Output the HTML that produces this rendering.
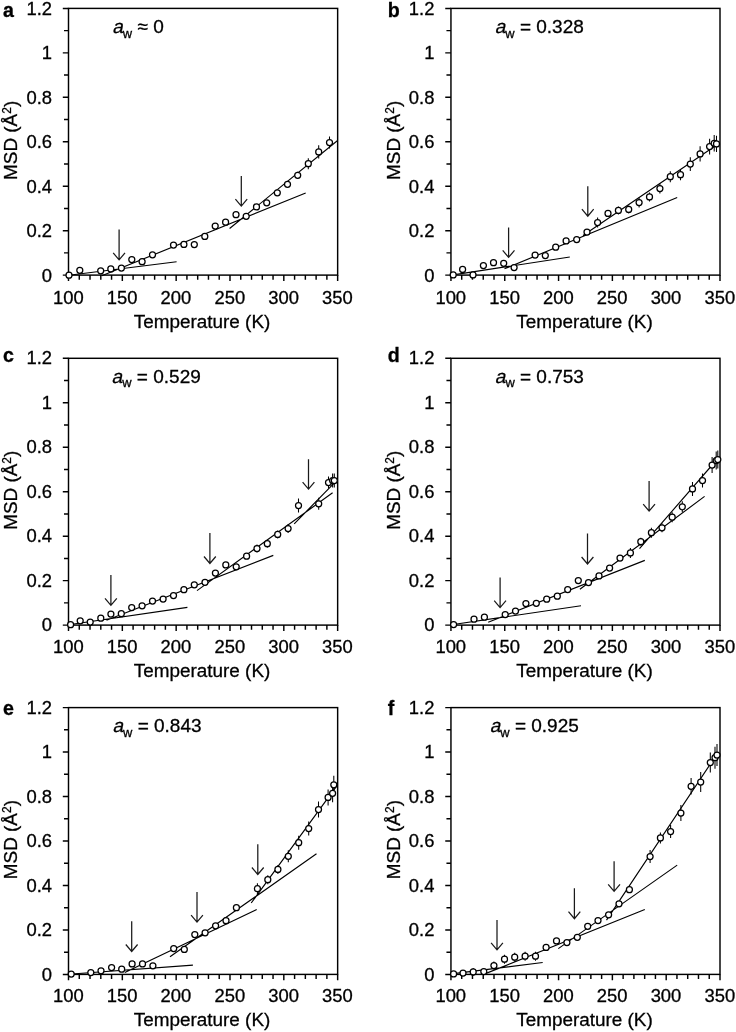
<!DOCTYPE html>
<html lang="en"><head><meta charset="utf-8"><title>MSD vs Temperature</title>
<style>html,body{margin:0;padding:0;background:#fff;}svg{display:block;}text{font-family:"Liberation Sans",Arial,Helvetica,sans-serif;fill:#000;stroke:#000;stroke-width:0.3px;}</style></head><body>
<svg width="736" height="1032" viewBox="0 0 736 1032">
<rect width="736" height="1032" fill="#fff"/>
<g id="panel-a">
<rect x="68.5" y="8.4" width="269.15" height="266.7" fill="none" stroke="#000" stroke-width="1.45"/>
<path d="M62.8 275.1H68.5M64 252.88H68.5M62.8 230.65H68.5M64 208.43H68.5M62.8 186.2H68.5M64 163.98H68.5M62.8 141.75H68.5M64 119.53H68.5M62.8 97.3H68.5M64 75.08H68.5M62.8 52.85H68.5M64 30.62H68.5M62.8 8.4H68.5M68.5 275.1V280.9M79.27 275.1V279.7M90.03 275.1V279.7M100.8 275.1V279.7M111.56 275.1V279.7M122.33 275.1V280.9M133.1 275.1V279.7M143.86 275.1V279.7M154.63 275.1V279.7M165.39 275.1V279.7M176.16 275.1V280.9M186.93 275.1V279.7M197.69 275.1V279.7M208.46 275.1V279.7M219.22 275.1V279.7M229.99 275.1V280.9M240.76 275.1V279.7M251.52 275.1V279.7M262.29 275.1V279.7M273.05 275.1V279.7M283.82 275.1V280.9M294.59 275.1V279.7M305.35 275.1V279.7M316.12 275.1V279.7M326.88 275.1V279.7M337.65 275.1V280.9" stroke="#000" stroke-width="1.45" fill="none"/>
<g font-size="18.4" text-anchor="end">
<text x="52" y="281.6">0</text>
<text x="52" y="237.15">0.2</text>
<text x="52" y="192.7">0.4</text>
<text x="52" y="148.25">0.6</text>
<text x="52" y="103.8">0.8</text>
<text x="52" y="59.35">1</text>
<text x="52" y="14.9">1.2</text>
</g>
<g font-size="18.4" text-anchor="middle">
<text x="68.3" y="303.6">100</text>
<text x="122.13" y="303.6">150</text>
<text x="175.96" y="303.6">200</text>
<text x="229.79" y="303.6">250</text>
<text x="283.62" y="303.6">300</text>
<text x="337.45" y="303.6">350</text>
<text x="202.07" y="327.7" font-size="18.9">Temperature (K)</text>
</g>
<text transform="translate(17.4 140.35) rotate(-90)" font-size="18.9" text-anchor="middle">MSD (Å<tspan font-size="12.0" dy="-6.2">2</tspan><tspan dy="6.2">)</tspan></text>
<text x="3" y="16.9" font-size="19.6" font-weight="bold">a</text>
<text transform="translate(112.2 32.9) skewX(-12)" font-size="19.0">a</text>
<text x="122.86" y="32.9" font-size="19.0"><tspan font-size="12.9" dy="4.8">w</tspan><tspan dy="-4.8"> ≈ 0</tspan></text>
<path d="M69 275.2L176.6 261.7M101.8 275.8L305.7 193M229.6 228.5L337.6 140.5" stroke="#000" stroke-width="1.15" fill="none"/>
<path d="M297.7 171.7V178.9M308.3 158.2V169.2M318.7 145.2V158.6M329.5 136.5V148.5" stroke="#000" stroke-width="1.05" fill="none"/>
<g fill="#fff" stroke="#000" stroke-width="1.25">
<circle cx="69" cy="275.2" r="3.0"/>
<circle cx="79.8" cy="270.3" r="3.0"/>
<circle cx="100.7" cy="270.8" r="3.0"/>
<circle cx="110.8" cy="268.9" r="3.0"/>
<circle cx="121.4" cy="268" r="3.0"/>
<circle cx="131.8" cy="259.5" r="3.0"/>
<circle cx="142.1" cy="261.7" r="3.0"/>
<circle cx="152.5" cy="254.8" r="3.0"/>
<circle cx="173.5" cy="245.1" r="3.0"/>
<circle cx="183.9" cy="244.4" r="3.0"/>
<circle cx="194.3" cy="244.5" r="3.0"/>
<circle cx="204.8" cy="236.4" r="3.0"/>
<circle cx="215.2" cy="226.1" r="3.0"/>
<circle cx="225.6" cy="222.2" r="3.0"/>
<circle cx="236" cy="214.7" r="3.0"/>
<circle cx="246.2" cy="216.3" r="3.0"/>
<circle cx="256.5" cy="206.9" r="3.0"/>
<circle cx="266.7" cy="202.8" r="3.0"/>
<circle cx="277.3" cy="192.8" r="3.0"/>
<circle cx="287.5" cy="184.3" r="3.0"/>
<circle cx="297.7" cy="175.3" r="3.0"/>
<circle cx="308.3" cy="163.7" r="3.0"/>
<circle cx="318.7" cy="151.9" r="3.0"/>
<circle cx="329.5" cy="142.5" r="3.0"/>
</g>
<path d="M119.1 229.5V259.9M113.2 252.9L119.1 259.9L125 252.9M241.3 176.1V206.1M235.4 199.1L241.3 206.1L247.2 199.1" stroke="#1a1a1a" stroke-width="1.25" fill="none" stroke-linejoin="miter"/>
</g>
<g id="panel-b">
<rect x="450.95" y="8.4" width="269.05" height="266.7" fill="none" stroke="#000" stroke-width="1.45"/>
<path d="M445.25 275.1H450.95M446.45 252.88H450.95M445.25 230.65H450.95M446.45 208.43H450.95M445.25 186.2H450.95M446.45 163.98H450.95M445.25 141.75H450.95M446.45 119.53H450.95M445.25 97.3H450.95M446.45 75.08H450.95M445.25 52.85H450.95M446.45 30.62H450.95M445.25 8.4H450.95M450.95 275.1V280.9M461.71 275.1V279.7M472.47 275.1V279.7M483.24 275.1V279.7M494 275.1V279.7M504.76 275.1V280.9M515.52 275.1V279.7M526.28 275.1V279.7M537.05 275.1V279.7M547.81 275.1V279.7M558.57 275.1V280.9M569.33 275.1V279.7M580.09 275.1V279.7M590.86 275.1V279.7M601.62 275.1V279.7M612.38 275.1V280.9M623.14 275.1V279.7M633.9 275.1V279.7M644.67 275.1V279.7M655.43 275.1V279.7M666.19 275.1V280.9M676.95 275.1V279.7M687.71 275.1V279.7M698.48 275.1V279.7M709.24 275.1V279.7M720 275.1V280.9" stroke="#000" stroke-width="1.45" fill="none"/>
<g font-size="18.4" text-anchor="end">
<text x="434.45" y="281.6">0</text>
<text x="434.45" y="237.15">0.2</text>
<text x="434.45" y="192.7">0.4</text>
<text x="434.45" y="148.25">0.6</text>
<text x="434.45" y="103.8">0.8</text>
<text x="434.45" y="59.35">1</text>
<text x="434.45" y="14.9">1.2</text>
</g>
<g font-size="18.4" text-anchor="middle">
<text x="450.75" y="303.6">100</text>
<text x="504.56" y="303.6">150</text>
<text x="558.37" y="303.6">200</text>
<text x="612.18" y="303.6">250</text>
<text x="665.99" y="303.6">300</text>
<text x="719.8" y="303.6">350</text>
<text x="584.48" y="327.7" font-size="18.9">Temperature (K)</text>
</g>
<text transform="translate(399.85 140.35) rotate(-90)" font-size="18.9" text-anchor="middle">MSD (Å<tspan font-size="12.0" dy="-6.2">2</tspan><tspan dy="6.2">)</tspan></text>
<text x="387.7" y="16.9" font-size="19.6" font-weight="bold">b</text>
<text transform="translate(494.65 32.9) skewX(-12)" font-size="19.0">a</text>
<text x="505.31" y="32.9" font-size="19.0"><tspan font-size="12.9" dy="4.8">w</tspan><tspan dy="-4.8"> = 0.328</tspan></text>
<path d="M453.2 274.9L569.8 257M504.5 268.8L677.2 197.5M583 235.5L719.6 142.9" stroke="#000" stroke-width="1.15" fill="none"/>
<path d="M597.6 217.6V227.6M618.4 206.4V214.4M628.7 205.4V213.4M639.1 197.6V207.6M649.5 192.4V201.4M659.9 183.6V193.6M670.3 171.2V182.2M680.5 169.2V180.2M690.3 157.2V171M700.1 146.2V161.6M709.6 138.8V154.4M714.2 135.1V151.5M716.5 135.7V152.1" stroke="#000" stroke-width="1.05" fill="none"/>
<g fill="#fff" stroke="#000" stroke-width="1.25">
<circle cx="453.2" cy="274.9" r="3.0"/>
<circle cx="462.6" cy="269.4" r="3.0"/>
<circle cx="473" cy="274.9" r="3.0"/>
<circle cx="483.4" cy="265.5" r="3.0"/>
<circle cx="493.5" cy="262.7" r="3.0"/>
<circle cx="503.7" cy="263.3" r="3.0"/>
<circle cx="514.1" cy="267.6" r="3.0"/>
<circle cx="535.1" cy="255" r="3.0"/>
<circle cx="545.3" cy="255.6" r="3.0"/>
<circle cx="555.7" cy="247.2" r="3.0"/>
<circle cx="566.1" cy="240.9" r="3.0"/>
<circle cx="576.7" cy="239.5" r="3.0"/>
<circle cx="587" cy="232" r="3.0"/>
<circle cx="597.6" cy="222.6" r="3.0"/>
<circle cx="608" cy="213.4" r="3.0"/>
<circle cx="618.4" cy="210.4" r="3.0"/>
<circle cx="628.7" cy="209.4" r="3.0"/>
<circle cx="639.1" cy="202.6" r="3.0"/>
<circle cx="649.5" cy="196.9" r="3.0"/>
<circle cx="659.9" cy="188.6" r="3.0"/>
<circle cx="670.3" cy="176.7" r="3.0"/>
<circle cx="680.5" cy="174.7" r="3.0"/>
<circle cx="690.3" cy="164.1" r="3.0"/>
<circle cx="700.1" cy="153.9" r="3.0"/>
<circle cx="709.6" cy="146.6" r="3.0"/>
<circle cx="714.2" cy="143.3" r="3.0"/>
<circle cx="716.5" cy="143.9" r="3.0"/>
</g>
<path d="M508.6 227.4V257.4M502.7 250.4L508.6 257.4L514.5 250.4M587.8 186.2V216.2M581.9 209.2L587.8 216.2L593.7 209.2" stroke="#1a1a1a" stroke-width="1.25" fill="none" stroke-linejoin="miter"/>
</g>
<g id="panel-c">
<rect x="68.5" y="358.3" width="269.15" height="266.8" fill="none" stroke="#000" stroke-width="1.45"/>
<path d="M62.8 625.1H68.5M64 602.87H68.5M62.8 580.63H68.5M64 558.4H68.5M62.8 536.17H68.5M64 513.93H68.5M62.8 491.7H68.5M64 469.47H68.5M62.8 447.23H68.5M64 425H68.5M62.8 402.77H68.5M64 380.53H68.5M62.8 358.3H68.5M68.5 625.1V630.9M79.27 625.1V629.7M90.03 625.1V629.7M100.8 625.1V629.7M111.56 625.1V629.7M122.33 625.1V630.9M133.1 625.1V629.7M143.86 625.1V629.7M154.63 625.1V629.7M165.39 625.1V629.7M176.16 625.1V630.9M186.93 625.1V629.7M197.69 625.1V629.7M208.46 625.1V629.7M219.22 625.1V629.7M229.99 625.1V630.9M240.76 625.1V629.7M251.52 625.1V629.7M262.29 625.1V629.7M273.05 625.1V629.7M283.82 625.1V630.9M294.59 625.1V629.7M305.35 625.1V629.7M316.12 625.1V629.7M326.88 625.1V629.7M337.65 625.1V630.9" stroke="#000" stroke-width="1.45" fill="none"/>
<g font-size="18.4" text-anchor="end">
<text x="52" y="631">0</text>
<text x="52" y="586.53">0.2</text>
<text x="52" y="542.07">0.4</text>
<text x="52" y="497.6">0.6</text>
<text x="52" y="453.13">0.8</text>
<text x="52" y="408.67">1</text>
<text x="52" y="364.2">1.2</text>
</g>
<g font-size="18.4" text-anchor="middle">
<text x="68.3" y="652.9">100</text>
<text x="122.13" y="652.9">150</text>
<text x="175.96" y="652.9">200</text>
<text x="229.79" y="652.9">250</text>
<text x="283.62" y="652.9">300</text>
<text x="337.45" y="652.9">350</text>
<text x="202.07" y="677" font-size="18.9">Temperature (K)</text>
</g>
<text transform="translate(17.4 490.3) rotate(-90)" font-size="18.9" text-anchor="middle">MSD (Å<tspan font-size="12.0" dy="-6.2">2</tspan><tspan dy="6.2">)</tspan></text>
<text x="3" y="361.8" font-size="19.6" font-weight="bold">c</text>
<text transform="translate(111.6 382.5) skewX(-12)" font-size="19.0">a</text>
<text x="122.26" y="382.5" font-size="19.0"><tspan font-size="12.9" dy="4.8">w</tspan><tspan dy="-4.8"> = 0.529</tspan></text>
<path d="M68.6 624.7L187.4 607.4M106.5 620.2L273.3 555.4M197 590.6L332.6 492.8M294.2 523.8L336.6 480.6" stroke="#000" stroke-width="1.15" fill="none"/>
<path d="M257 544.6V552.6M267.3 539.7V547.7M277.7 530.4V538.4M288.1 524V533M298.5 498.6V512.6M318.7 497.8V509.8M328.5 476.6V488.6M332.6 473.6V487.6M334.3 473.6V487.6" stroke="#000" stroke-width="1.05" fill="none"/>
<g fill="#fff" stroke="#000" stroke-width="1.25">
<circle cx="70.6" cy="624.7" r="3.0"/>
<circle cx="80.2" cy="620.8" r="3.0"/>
<circle cx="90.2" cy="622.1" r="3.0"/>
<circle cx="100.8" cy="618.2" r="3.0"/>
<circle cx="110.9" cy="614.1" r="3.0"/>
<circle cx="121.3" cy="613.7" r="3.0"/>
<circle cx="131.7" cy="607.6" r="3.0"/>
<circle cx="142.1" cy="605.8" r="3.0"/>
<circle cx="152.5" cy="601.1" r="3.0"/>
<circle cx="163.1" cy="599" r="3.0"/>
<circle cx="173.5" cy="595.6" r="3.0"/>
<circle cx="183.9" cy="589.7" r="3.0"/>
<circle cx="194.3" cy="584.8" r="3.0"/>
<circle cx="205" cy="582.3" r="3.0"/>
<circle cx="215.4" cy="573.1" r="3.0"/>
<circle cx="225.8" cy="564.9" r="3.0"/>
<circle cx="236.2" cy="566.8" r="3.0"/>
<circle cx="246.6" cy="556.2" r="3.0"/>
<circle cx="257" cy="548.6" r="3.0"/>
<circle cx="267.3" cy="543.7" r="3.0"/>
<circle cx="277.7" cy="534.4" r="3.0"/>
<circle cx="288.1" cy="528.5" r="3.0"/>
<circle cx="298.5" cy="505.6" r="3.0"/>
<circle cx="318.7" cy="503.8" r="3.0"/>
<circle cx="328.5" cy="482.6" r="3.0"/>
<circle cx="332.6" cy="480.6" r="3.0"/>
<circle cx="334.3" cy="480.6" r="3.0"/>
</g>
<path d="M110.9 575V605.4M105 598.4L110.9 605.4L116.8 598.4M209.9 533.1V563.5M204 556.5L209.9 563.5L215.8 556.5M308.5 459.2V489.1M302.6 482.1L308.5 489.1L314.4 482.1" stroke="#1a1a1a" stroke-width="1.25" fill="none" stroke-linejoin="miter"/>
</g>
<g id="panel-d">
<rect x="450.95" y="358.3" width="269.05" height="266.8" fill="none" stroke="#000" stroke-width="1.45"/>
<path d="M445.25 625.1H450.95M446.45 602.87H450.95M445.25 580.63H450.95M446.45 558.4H450.95M445.25 536.17H450.95M446.45 513.93H450.95M445.25 491.7H450.95M446.45 469.47H450.95M445.25 447.23H450.95M446.45 425H450.95M445.25 402.77H450.95M446.45 380.53H450.95M445.25 358.3H450.95M450.95 625.1V630.9M461.71 625.1V629.7M472.47 625.1V629.7M483.24 625.1V629.7M494 625.1V629.7M504.76 625.1V630.9M515.52 625.1V629.7M526.28 625.1V629.7M537.05 625.1V629.7M547.81 625.1V629.7M558.57 625.1V630.9M569.33 625.1V629.7M580.09 625.1V629.7M590.86 625.1V629.7M601.62 625.1V629.7M612.38 625.1V630.9M623.14 625.1V629.7M633.9 625.1V629.7M644.67 625.1V629.7M655.43 625.1V629.7M666.19 625.1V630.9M676.95 625.1V629.7M687.71 625.1V629.7M698.48 625.1V629.7M709.24 625.1V629.7M720 625.1V630.9" stroke="#000" stroke-width="1.45" fill="none"/>
<g font-size="18.4" text-anchor="end">
<text x="434.45" y="631">0</text>
<text x="434.45" y="586.53">0.2</text>
<text x="434.45" y="542.07">0.4</text>
<text x="434.45" y="497.6">0.6</text>
<text x="434.45" y="453.13">0.8</text>
<text x="434.45" y="408.67">1</text>
<text x="434.45" y="364.2">1.2</text>
</g>
<g font-size="18.4" text-anchor="middle">
<text x="450.75" y="652.9">100</text>
<text x="504.56" y="652.9">150</text>
<text x="558.37" y="652.9">200</text>
<text x="612.18" y="652.9">250</text>
<text x="665.99" y="652.9">300</text>
<text x="719.8" y="652.9">350</text>
<text x="584.48" y="677" font-size="18.9">Temperature (K)</text>
</g>
<text transform="translate(399.85 490.3) rotate(-90)" font-size="18.9" text-anchor="middle">MSD (Å<tspan font-size="12.0" dy="-6.2">2</tspan><tspan dy="6.2">)</tspan></text>
<text x="387.7" y="361.8" font-size="19.6" font-weight="bold">d</text>
<text transform="translate(494.75 382.5) skewX(-12)" font-size="19.0">a</text>
<text x="505.41" y="382.5" font-size="19.0"><tspan font-size="12.9" dy="4.8">w</tspan><tspan dy="-4.8"> = 0.753</tspan></text>
<path d="M451.6 624.7L581 605.8M488.2 622.3L644.8 560.4M579.9 589.3L704.6 496.4M639.5 548.6L719.6 456.5" stroke="#000" stroke-width="1.15" fill="none"/>
<path d="M630.4 547.9V557.9M640.8 537.7V545.7M651.4 527.7V537.7M662 523.3V532.3M672.2 512.2V522.2M682.3 501.3V512.3M692.5 481.9V495.9M702.5 473.5V487.5M712.1 457.1V473.1M716.2 451.6V469.6M717.8 450.5V468.5" stroke="#000" stroke-width="1.05" fill="none"/>
<g fill="#fff" stroke="#000" stroke-width="1.25">
<circle cx="453.6" cy="624.5" r="3.0"/>
<circle cx="474" cy="619.2" r="3.0"/>
<circle cx="484.4" cy="617.2" r="3.0"/>
<circle cx="505.2" cy="614.5" r="3.0"/>
<circle cx="515.5" cy="611.1" r="3.0"/>
<circle cx="525.9" cy="603.5" r="3.0"/>
<circle cx="536.3" cy="603.3" r="3.0"/>
<circle cx="546.7" cy="599.2" r="3.0"/>
<circle cx="557.3" cy="596.2" r="3.0"/>
<circle cx="567.7" cy="589.5" r="3.0"/>
<circle cx="578.3" cy="580.5" r="3.0"/>
<circle cx="588.5" cy="582.6" r="3.0"/>
<circle cx="599" cy="575.9" r="3.0"/>
<circle cx="609.6" cy="568" r="3.0"/>
<circle cx="620" cy="558" r="3.0"/>
<circle cx="630.4" cy="552.9" r="3.0"/>
<circle cx="640.8" cy="541.7" r="3.0"/>
<circle cx="651.4" cy="532.7" r="3.0"/>
<circle cx="662" cy="527.8" r="3.0"/>
<circle cx="672.2" cy="517.2" r="3.0"/>
<circle cx="682.3" cy="506.8" r="3.0"/>
<circle cx="692.5" cy="488.9" r="3.0"/>
<circle cx="702.5" cy="480.5" r="3.0"/>
<circle cx="712.1" cy="465.1" r="3.0"/>
<circle cx="716.2" cy="460.6" r="3.0"/>
<circle cx="717.8" cy="459.5" r="3.0"/>
</g>
<path d="M500.1 577.4V607.6M494.2 600.6L500.1 607.6L506 600.6M587.5 533.6V564M581.6 557L587.5 564L593.4 557M649.1 480.9V511.1M643.2 504.1L649.1 511.1L655 504.1" stroke="#1a1a1a" stroke-width="1.25" fill="none" stroke-linejoin="miter"/>
</g>
<g id="panel-e">
<rect x="68.5" y="707.6" width="269.15" height="266.8" fill="none" stroke="#000" stroke-width="1.45"/>
<path d="M62.8 974.4H68.5M64 952.17H68.5M62.8 929.93H68.5M64 907.7H68.5M62.8 885.47H68.5M64 863.23H68.5M62.8 841H68.5M64 818.77H68.5M62.8 796.53H68.5M64 774.3H68.5M62.8 752.07H68.5M64 729.83H68.5M62.8 707.6H68.5M68.5 974.4V980.2M79.27 974.4V979M90.03 974.4V979M100.8 974.4V979M111.56 974.4V979M122.33 974.4V980.2M133.1 974.4V979M143.86 974.4V979M154.63 974.4V979M165.39 974.4V979M176.16 974.4V980.2M186.93 974.4V979M197.69 974.4V979M208.46 974.4V979M219.22 974.4V979M229.99 974.4V980.2M240.76 974.4V979M251.52 974.4V979M262.29 974.4V979M273.05 974.4V979M283.82 974.4V980.2M294.59 974.4V979M305.35 974.4V979M316.12 974.4V979M326.88 974.4V979M337.65 974.4V980.2" stroke="#000" stroke-width="1.45" fill="none"/>
<g font-size="18.4" text-anchor="end">
<text x="52" y="980.5">0</text>
<text x="52" y="936.03">0.2</text>
<text x="52" y="891.57">0.4</text>
<text x="52" y="847.1">0.6</text>
<text x="52" y="802.63">0.8</text>
<text x="52" y="758.17">1</text>
<text x="52" y="713.7">1.2</text>
</g>
<g font-size="18.4" text-anchor="middle">
<text x="68.3" y="1002.3">100</text>
<text x="122.13" y="1002.3">150</text>
<text x="175.96" y="1002.3">200</text>
<text x="229.79" y="1002.3">250</text>
<text x="283.62" y="1002.3">300</text>
<text x="337.45" y="1002.3">350</text>
<text x="202.07" y="1026.4" font-size="18.9">Temperature (K)</text>
</g>
<text transform="translate(17.4 839.6) rotate(-90)" font-size="18.9" text-anchor="middle">MSD (Å<tspan font-size="12.0" dy="-6.2">2</tspan><tspan dy="6.2">)</tspan></text>
<text x="3" y="714.7" font-size="19.6" font-weight="bold">e</text>
<text transform="translate(112.4 731.8) skewX(-12)" font-size="19.0">a</text>
<text x="123.06" y="731.8" font-size="19.0"><tspan font-size="12.9" dy="4.8">w</tspan><tspan dy="-4.8"> = 0.843</tspan></text>
<path d="M68.6 974.3L192.9 965.1M124.8 972.5L256.7 909.5M170 956.8L316.5 853.7M251.2 903L336.6 786.2" stroke="#000" stroke-width="1.15" fill="none"/>
<path d="M257.4 883.2V894.2M267.8 875.2V884.2M277.9 864.9V873.9M288.3 850.3V862.3M298.7 835.7V849.7M308.7 821.6V835.6M318.5 801.6V817.6M328.1 789.4V805.4M332.6 784.3V802.3M333.8 775.8V793.8" stroke="#000" stroke-width="1.05" fill="none"/>
<g fill="#fff" stroke="#000" stroke-width="1.25">
<circle cx="71.2" cy="974.1" r="3.0"/>
<circle cx="90.8" cy="972.5" r="3.0"/>
<circle cx="101" cy="970.8" r="3.0"/>
<circle cx="111.6" cy="967.6" r="3.0"/>
<circle cx="121.7" cy="969.2" r="3.0"/>
<circle cx="132.1" cy="963.9" r="3.0"/>
<circle cx="142.5" cy="963.9" r="3.0"/>
<circle cx="152.9" cy="965.8" r="3.0"/>
<circle cx="173.7" cy="948.6" r="3.0"/>
<circle cx="184.3" cy="949.4" r="3.0"/>
<circle cx="194.8" cy="934.5" r="3.0"/>
<circle cx="205.1" cy="932.8" r="3.0"/>
<circle cx="215.6" cy="925.8" r="3.0"/>
<circle cx="226" cy="920.7" r="3.0"/>
<circle cx="236.4" cy="907.7" r="3.0"/>
<circle cx="257.4" cy="888.7" r="3.0"/>
<circle cx="267.8" cy="879.7" r="3.0"/>
<circle cx="277.9" cy="869.4" r="3.0"/>
<circle cx="288.3" cy="856.3" r="3.0"/>
<circle cx="298.7" cy="842.7" r="3.0"/>
<circle cx="308.7" cy="828.6" r="3.0"/>
<circle cx="318.5" cy="809.6" r="3.0"/>
<circle cx="328.1" cy="797.4" r="3.0"/>
<circle cx="332.6" cy="793.3" r="3.0"/>
<circle cx="333.8" cy="784.8" r="3.0"/>
</g>
<path d="M131.7 921.3V951.5M125.8 944.5L131.7 951.5L137.6 944.5M197 892.1V922.1M191.1 915.1L197 922.1L202.9 915.1M257.8 844.3V874.5M251.9 867.5L257.8 874.5L263.7 867.5" stroke="#1a1a1a" stroke-width="1.25" fill="none" stroke-linejoin="miter"/>
</g>
<g id="panel-f">
<rect x="450.95" y="707.6" width="269.05" height="266.8" fill="none" stroke="#000" stroke-width="1.45"/>
<path d="M445.25 974.4H450.95M446.45 952.17H450.95M445.25 929.93H450.95M446.45 907.7H450.95M445.25 885.47H450.95M446.45 863.23H450.95M445.25 841H450.95M446.45 818.77H450.95M445.25 796.53H450.95M446.45 774.3H450.95M445.25 752.07H450.95M446.45 729.83H450.95M445.25 707.6H450.95M450.95 974.4V980.2M461.71 974.4V979M472.47 974.4V979M483.24 974.4V979M494 974.4V979M504.76 974.4V980.2M515.52 974.4V979M526.28 974.4V979M537.05 974.4V979M547.81 974.4V979M558.57 974.4V980.2M569.33 974.4V979M580.09 974.4V979M590.86 974.4V979M601.62 974.4V979M612.38 974.4V980.2M623.14 974.4V979M633.9 974.4V979M644.67 974.4V979M655.43 974.4V979M666.19 974.4V980.2M676.95 974.4V979M687.71 974.4V979M698.48 974.4V979M709.24 974.4V979M720 974.4V980.2" stroke="#000" stroke-width="1.45" fill="none"/>
<g font-size="18.4" text-anchor="end">
<text x="434.45" y="980.5">0</text>
<text x="434.45" y="936.03">0.2</text>
<text x="434.45" y="891.57">0.4</text>
<text x="434.45" y="847.1">0.6</text>
<text x="434.45" y="802.63">0.8</text>
<text x="434.45" y="758.17">1</text>
<text x="434.45" y="713.7">1.2</text>
</g>
<g font-size="18.4" text-anchor="middle">
<text x="450.75" y="1002.3">100</text>
<text x="504.56" y="1002.3">150</text>
<text x="558.37" y="1002.3">200</text>
<text x="612.18" y="1002.3">250</text>
<text x="665.99" y="1002.3">300</text>
<text x="719.8" y="1002.3">350</text>
<text x="584.48" y="1026.4" font-size="18.9">Temperature (K)</text>
</g>
<text transform="translate(399.85 839.6) rotate(-90)" font-size="18.9" text-anchor="middle">MSD (Å<tspan font-size="12.0" dy="-6.2">2</tspan><tspan dy="6.2">)</tspan></text>
<text x="387.7" y="714.7" font-size="19.6" font-weight="bold">f</text>
<text transform="translate(489.65 731.8) skewX(-12)" font-size="19.0">a</text>
<text x="500.31" y="731.8" font-size="19.0"><tspan font-size="12.9" dy="4.8">w</tspan><tspan dy="-4.8"> = 0.925</tspan></text>
<path d="M451.6 973.9L542.7 962.5M484.8 973.9L644.8 909.5M558.3 948.6L677.2 865.1M606.5 920.1L718 752.5" stroke="#000" stroke-width="1.15" fill="none"/>
<path d="M473.2 967.9V975.9M493.9 961.5V969.5M504.5 954.7V963.7M514.7 952.7V961.7M525.1 951.7V960.7M535.5 951.7V960.7M650.1 850V863M660.4 832.4V843.4M670.6 825V838M680.9 805.1V821.1M691.1 778V794.6M700.7 772V792M710.3 752.5V772.5M715 746.7V768.7M717 744V766" stroke="#000" stroke-width="1.05" fill="none"/>
<g fill="#fff" stroke="#000" stroke-width="1.25">
<circle cx="453.6" cy="973.9" r="3.0"/>
<circle cx="463" cy="973.1" r="3.0"/>
<circle cx="473.2" cy="971.9" r="3.0"/>
<circle cx="483.8" cy="971.5" r="3.0"/>
<circle cx="493.9" cy="965.5" r="3.0"/>
<circle cx="504.5" cy="959.2" r="3.0"/>
<circle cx="514.7" cy="957.2" r="3.0"/>
<circle cx="525.1" cy="956.2" r="3.0"/>
<circle cx="535.5" cy="956.2" r="3.0"/>
<circle cx="546.1" cy="947.4" r="3.0"/>
<circle cx="556.5" cy="940.9" r="3.0"/>
<circle cx="566.9" cy="942.5" r="3.0"/>
<circle cx="577.3" cy="937.3" r="3.0"/>
<circle cx="587.7" cy="926.3" r="3.0"/>
<circle cx="598" cy="920.5" r="3.0"/>
<circle cx="608.6" cy="914.8" r="3.0"/>
<circle cx="619" cy="903.8" r="3.0"/>
<circle cx="629.4" cy="889.7" r="3.0"/>
<circle cx="650.1" cy="856.5" r="3.0"/>
<circle cx="660.4" cy="837.9" r="3.0"/>
<circle cx="670.6" cy="831.5" r="3.0"/>
<circle cx="680.9" cy="813.1" r="3.0"/>
<circle cx="691.1" cy="786.3" r="3.0"/>
<circle cx="700.7" cy="782" r="3.0"/>
<circle cx="710.3" cy="762.5" r="3.0"/>
<circle cx="715" cy="757.7" r="3.0"/>
<circle cx="717" cy="755" r="3.0"/>
</g>
<path d="M497 919.9V949.9M491.1 942.9L497 949.9L502.9 942.9M574.4 888.3V918.7M568.5 911.7L574.4 918.7L580.3 911.7M614.1 861.2V891.4M608.2 884.4L614.1 891.4L620 884.4" stroke="#1a1a1a" stroke-width="1.25" fill="none" stroke-linejoin="miter"/>
</g>
</svg></body></html>
